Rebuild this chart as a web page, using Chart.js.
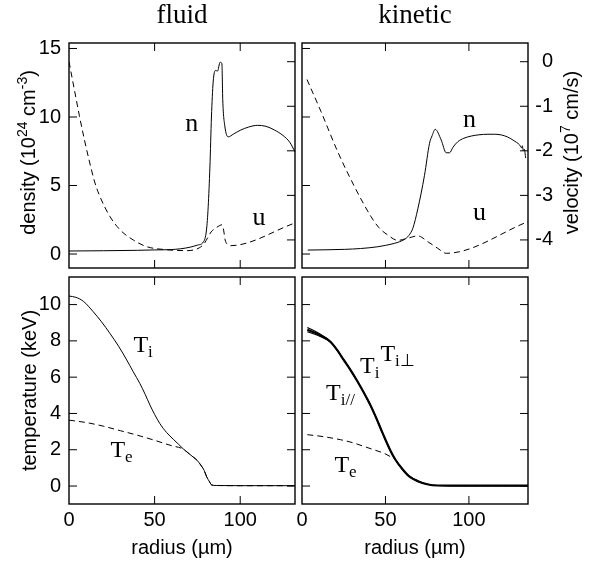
<!DOCTYPE html>
<html><head><meta charset="utf-8">
<script src="https://cdn.jsdelivr.net/npm/chart.js@4.4.1/dist/chart.umd.min.js"></script>
<style>
html,body{margin:0;padding:0;background:#fff;}
#wrap{position:relative;width:595px;height:565px;background:#fff;}
#wrap canvas{position:absolute;left:0;top:0;}
</style></head>
<body><div id="wrap">
<canvas id="c1" width="595" height="565"></canvas>
<canvas id="c2" width="595" height="565"></canvas>
<canvas id="c3" width="595" height="565"></canvas>
<canvas id="c4" width="595" height="565"></canvas>
</div>
<script>
// ---------------- data ----------------
const PANEL_TITLES = ['fluid', 'kinetic'];
const X_TITLE = 'radius (µm)';
const T_TITLE = 'temperature (keV)';
const X_TICKS = [0, 50, 100];
const DENSITY_TICKS = [0, 5, 10, 15];
const VELOCITY_TICKS = [0, -1, -2, -3, -4];
const TEMP_TICKS = [0, 2, 4, 6, 8, 10];
const X_MAX_FLUID = 132;
const X_MAX_KINETIC = 135.4;

// fluid: density n (10^24 cm^-3)
const FLUID_N_R = [0, 20, 40, 50, 59, 65, 70.8, 75, 78.5, 80.3, 81.3, 82.3, 83.2, 84.2, 85.6, 86.7, 88.3, 89.3, 89.8, 91, 93, 96, 100, 105, 110, 115, 120, 125, 129, 132];
const FLUID_N   = [0.22, 0.24, 0.27, 0.3, 0.32, 0.38, 0.5, 0.65, 0.88, 1.75, 3.45, 6.35, 10.0, 12.55, 13.4, 13.35, 14.0, 13.9, 11.25, 9.35, 8.55, 8.75, 9.03, 9.27, 9.39, 9.32, 9.05, 8.65, 8.15, 7.45];
// fluid: velocity u (10^7 cm/s)
const FLUID_U_R = [0, 3, 6, 9, 12, 15, 18, 24, 30, 37.5, 45.3, 57, 69, 76, 79, 81, 83, 85, 87, 89.3, 90.3, 91.2, 92.5, 94, 132];
const FLUID_U   = [0, -0.6, -1.2, -1.75, -2.25, -2.7, -3.02, -3.48, -3.78, -4.0, -4.15, -4.22, -4.24, -4.18, -4.08, -3.95, -3.82, -3.75, -3.7, -3.66, -3.78, -4.0, -4.1, -4.13, -3.62];

// kinetic: density n
const KIN_N_R = [3.4, 15, 25.4, 35, 45.4, 50, 55.4, 58.5, 61.4, 64, 66.4, 69.4, 73.4, 76.4, 78, 79.8, 83.4, 86.4, 88.4, 90.5, 93.4, 97, 101.4, 106, 111.4, 115.5, 119.4, 123, 126.4, 128.5, 130.4, 131.5, 132, 132.6, 133.2, 134];
const KIN_N   = [0.29, 0.31, 0.34, 0.4, 0.53, 0.63, 0.78, 0.9, 1.07, 1.35, 1.88, 3.3, 5.75, 8.08, 8.65, 9.1, 8.32, 7.39, 7.39, 7.8, 8.2, 8.45, 8.61, 8.7, 8.74, 8.74, 8.69, 8.55, 8.32, 8.15, 7.96, 7.75, 7.9, 7.55, 7.65, 7.0];
// kinetic: velocity u
const KIN_U_R = [3, 11.4, 21.4, 31.4, 41.4, 46, 51.4, 57.4, 63.4, 69.4, 75.4, 81.4, 86.4, 135.4];
const KIN_U   = [-0.4, -1.12, -2.02, -2.8, -3.48, -3.72, -3.89, -4.01, -3.96, -3.91, -4.04, -4.19, -4.3, -3.59];

// fluid: temperatures (keV)
const FLUID_TI_R = [0, 4, 8.4, 14.2, 19, 24, 29, 33.7, 37.5, 41.4, 44.5, 47.3, 50, 53, 57, 60.9, 64, 66.7, 69.5, 72.5, 75, 77, 79, 80.4, 82, 83.3, 86, 100, 132];
const FLUID_TI   = [10.47, 10.4, 10.18, 9.6, 9.05, 8.4, 7.7, 6.95, 6.3, 5.65, 5.05, 4.46, 3.95, 3.45, 2.95, 2.58, 2.3, 2.05, 1.83, 1.6, 1.4, 1.15, 0.85, 0.51, 0.25, 0.06, 0.03, 0.02, 0.02];
const FLUID_TE_R = [0, 10, 20, 30, 40, 50, 60, 66.7, 69.5, 72.5, 75, 77, 79, 80.4, 82, 83.3, 86, 100, 132];
const FLUID_TE   = [3.63, 3.5, 3.3, 3.05, 2.8, 2.52, 2.22, 2.04, 1.83, 1.6, 1.4, 1.15, 0.85, 0.51, 0.25, 0.06, 0.03, 0.02, 0.02];

// kinetic: temperatures (keV)
const KIN_TI_R    = [3.2, 10, 17, 21, 25, 29, 33, 37, 41, 44, 47, 50, 53, 56, 60, 64, 69.4, 75, 81, 100, 135.4];
const KIN_TI      = [8.62, 8.35, 7.95, 7.5, 6.95, 6.4, 5.8, 5.15, 4.45, 3.85, 3.2, 2.55, 1.95, 1.45, 0.95, 0.55, 0.27, 0.1, 0.03, 0.02, 0.02];
const KIN_TI_PERP = [8.74, 8.42, 7.97, 7.5, 6.95, 6.4, 5.8, 5.15, 4.45, 3.85, 3.2, 2.55, 1.95, 1.45, 0.95, 0.55, 0.27, 0.1, 0.03, 0.02, 0.02];
const KIN_TI_PAR  = [8.5, 8.28, 7.93, 7.5, 6.95, 6.4, 5.8, 5.15, 4.45, 3.85, 3.2, 2.55, 1.95, 1.45, 0.95, 0.55, 0.27, 0.1, 0.03, 0.02, 0.02];
const KIN_TE_R = [3.2, 13, 23.2, 30, 37.2, 43, 49.2, 53, 56, 60, 64, 69.4, 75, 81, 100, 135.4];
const KIN_TE   = [2.83, 2.72, 2.55, 2.4, 2.18, 2.0, 1.8, 1.62, 1.45, 0.95, 0.55, 0.27, 0.1, 0.03, 0.02, 0.02];

// axis ranges
const DENSITY_RANGE = [-1.02, 15.4];
const VELOCITY_RANGE = [-4.63, 0.42];
const TEMP_RANGE = [-0.99, 11.52];

// ---------------- drawing ----------------
const SANS = "'Liberation Sans', Arial, Helvetica, sans-serif";
const SERIF = "'Liberation Serif', 'Times New Roman', serif";
const DASH = [6, 4];

function pts(xs, ys) { return xs.map((x, i) => ({x: x, y: ys[i]})); }
function ds(label, xs, ys, axis, dashed, width) {
  return {label: label, data: pts(xs, ys), yAxisID: axis, borderColor: '#000',
    borderWidth: width || 1, borderDash: dashed ? DASH : [], pointRadius: 0,
    fill: false, cubicInterpolationMode: 'monotone'};
}

const DECOR = {};

function drawRich(ctx, parts, bx, cy) {
  const main = '20px ' + SANS, sup = '14px ' + SANS;
  let total = 0;
  parts.forEach(p => { ctx.font = p[1] ? sup : main; total += ctx.measureText(p[0]).width; });
  ctx.save();
  ctx.translate(bx, cy);
  ctx.rotate(-Math.PI / 2);
  ctx.textBaseline = 'alphabetic';
  ctx.textAlign = 'left';
  let x = -total / 2;
  parts.forEach(p => {
    ctx.font = p[1] ? sup : main;
    ctx.fillText(p[0], x, p[1] ? -8 : 0);
    x += ctx.measureText(p[0]).width;
  });
  ctx.restore();
}

const decorPlugin = {
  id: 'decor',
  afterDatasetsDraw(chart) {
    const o = DECOR[chart.canvas.id];
    if (!o) return;
    const ctx = chart.ctx, a = chart.chartArea, sc = chart.scales;
    ctx.save();
    ctx.strokeStyle = '#000';
    ctx.fillStyle = '#000';
    ctx.lineWidth = 1.4;
    ctx.strokeRect(a.left, a.top, a.right - a.left, a.bottom - a.top);
    const L = 8;
    ctx.lineWidth = 1;
    ctx.beginPath();
    X_TICKS.forEach(v => {
      const px = sc.x.getPixelForValue(v);
      if (px <= a.left + 1 || px >= a.right - 1) return;
      ctx.moveTo(px, a.top); ctx.lineTo(px, a.top + L);
      ctx.moveTo(px, a.bottom); ctx.lineTo(px, a.bottom - L);
    });
    o.left.forEach(v => {
      const py = sc[o.leftAxis].getPixelForValue(v);
      ctx.moveTo(a.left, py); ctx.lineTo(a.left + L, py);
    });
    o.right.forEach(v => {
      const py = sc[o.rightAxis].getPixelForValue(v);
      ctx.moveTo(a.right, py); ctx.lineTo(a.right - L, py);
    });
    ctx.stroke();
    if (o.title) {
      ctx.font = '27px ' + SERIF;
      ctx.textAlign = 'center';
      ctx.textBaseline = 'alphabetic';
      ctx.fillText(o.title, (a.left + a.right) / 2, a.top - 20);
    }
    ctx.textAlign = 'left';
    ctx.textBaseline = 'alphabetic';
    o.notes.forEach(n => {
      const px = sc.x.getPixelForValue(n.r), py = sc[n.axis].getPixelForValue(n.v);
      ctx.font = n.size + 'px ' + SERIF;
      ctx.fillText(n.main, px, py);
      if (n.sub) {
        const w = ctx.measureText(n.main).width;
        ctx.font = Math.round(n.size * 0.72) + 'px ' + SERIF;
        ctx.fillText(n.sub, px + w, py + 5);
      }
    });
    (o.rich || []).forEach(r => {
      const bx = r.side === 'left' ? a.left - 34 : a.right + 50;
      drawRich(ctx, r.parts, bx, (a.top + a.bottom) / 2 - 3);
    });
    ctx.restore();
  }
};

function yScale(range, ticks, show, pos, width, title) {
  const s = {
    type: 'linear', position: pos, min: range[0], max: range[1], display: show,
    grid: {display: false, drawTicks: false}, border: {display: false},
    afterBuildTicks: sc => { sc.ticks = ticks.map(v => ({value: v})); },
    ticks: {color: '#000', font: {family: SANS, size: 20}, padding: 8,
      crossAlign: pos === 'left' ? 'near' : 'far'},
    afterFit: sc => { sc.width = show ? width : 0; }
  };
  if (title) s.title = {display: true, text: title, color: '#000', font: {family: SANS, size: 20}, padding: {top: 18, bottom: 0}};
  return s;
}
function xScale(max, show) {
  return {
    type: 'linear', position: 'bottom', min: 0, max: max, display: show,
    grid: {display: false, drawTicks: false}, border: {display: false},
    afterBuildTicks: sc => { sc.ticks = X_TICKS.map(v => ({value: v})); },
    ticks: {color: '#000', font: {family: SANS, size: 20}, padding: 4, maxRotation: 0, autoSkip: false},
    title: {display: show, text: X_TITLE, color: '#000', font: {family: SANS, size: 20}, padding: {top: 0, bottom: 5}},
    afterFit: sc => { sc.height = show ? 61 : 0; }
  };
}
function make(id, datasets, padding, scales) {
  return new Chart(document.getElementById(id), {
    type: 'line',
    data: {datasets: datasets},
    options: {
      responsive: false, animation: false, events: [], devicePixelRatio: 1,
      layout: {padding: padding},
      plugins: {legend: {display: false}, tooltip: {enabled: false}},
      scales: scales
    },
    plugins: [decorPlugin]
  });
}

// top-left: fluid n, u
DECOR.c1 = {title: PANEL_TITLES[0], leftAxis: 'y', left: DENSITY_TICKS, rightAxis: 'y2', right: VELOCITY_TICKS,
  notes: [{main: 'n', r: 67.9, v: 9.0, axis: 'y', size: 26}, {main: 'u', r: 107.2, v: 2.12, axis: 'y', size: 26}],
  rich: [{side: 'left', parts: [['density (10', 0], ['24', 1], [' cm', 0], ['-3', 1], [')', 0]]}]};
make('c1', [ds('n', FLUID_N_R, FLUID_N, 'y', false), ds('u', FLUID_U_R, FLUID_U, 'y2', true)],
  {left: 0, top: 43, right: 300, bottom: 297},
  {x: xScale(X_MAX_FLUID, false),
   y: yScale(DENSITY_RANGE, DENSITY_TICKS, true, 'left', 69),
   y2: yScale(VELOCITY_RANGE, VELOCITY_TICKS, false, 'right', 0)});

// top-right: kinetic n, u  (velocity labels right-aligned at x = 553)
DECOR.c2 = {title: PANEL_TITLES[1], leftAxis: 'y', left: DENSITY_TICKS, rightAxis: 'y2', right: VELOCITY_TICKS,
  notes: [{main: 'n', r: 96.4, v: 9.25, axis: 'y', size: 26}, {main: 'u', r: 102.4, v: 2.45, axis: 'y', size: 26}],
  rich: [{side: 'right', parts: [['velocity (10', 0], ['7', 1], [' cm/s)', 0]]}]};
make('c2', [ds('n', KIN_N_R, KIN_N, 'y', false), ds('u', KIN_U_R, KIN_U, 'y2', true)],
  {left: 302, top: 43, right: 42, bottom: 297},
  {x: xScale(X_MAX_KINETIC, false),
   y: yScale(DENSITY_RANGE, DENSITY_TICKS, false, 'left', 0),
   y2: yScale(VELOCITY_RANGE, VELOCITY_TICKS, true, 'right', 25)});

// bottom-left: fluid Ti, Te
DECOR.c3 = {leftAxis: 'y', left: TEMP_TICKS, rightAxis: 'y', right: TEMP_TICKS,
  notes: [{main: 'T', sub: 'i', r: 37.6, v: 7.39, axis: 'y', size: 24}, {main: 'T', sub: 'e', r: 24.2, v: 1.6, axis: 'y', size: 24}]};
make('c3', [ds('Ti', FLUID_TI_R, FLUID_TI, 'y', false), ds('Te', FLUID_TE_R, FLUID_TE, 'y', true)],
  {left: 0, top: 277, right: 300, bottom: 0},
  {x: xScale(X_MAX_FLUID, true),
   y: yScale(TEMP_RANGE, TEMP_TICKS, true, 'left', 69, T_TITLE)});

// bottom-right: kinetic Ti, Ti_perp, Ti_par, Te
DECOR.c4 = {leftAxis: 'y', left: TEMP_TICKS, rightAxis: 'y', right: TEMP_TICKS,
  notes: [{main: 'T', sub: 'i', r: 34.8, v: 6.22, axis: 'y', size: 24},
          {main: 'T', sub: 'i\u22A5', r: 47.0, v: 6.9, axis: 'y', size: 24},
          {main: 'T', sub: 'i//', r: 14.4, v: 4.73, axis: 'y', size: 24},
          {main: 'T', sub: 'e', r: 19.4, v: 0.79, axis: 'y', size: 24}]};
make('c4', [ds('Ti_perp', KIN_TI_R, KIN_TI_PERP, 'y', false, 1.2), ds('Ti_par', KIN_TI_R, KIN_TI_PAR, 'y', false, 1.2),
            ds('Ti', KIN_TI_R, KIN_TI, 'y', false, 2.2), ds('Te', KIN_TE_R, KIN_TE, 'y', true)],
  {left: 302, top: 277, right: 67, bottom: 0},
  {x: xScale(X_MAX_KINETIC, true),
   y: yScale(TEMP_RANGE, TEMP_TICKS, false, 'left', 0)});
</script>
</body></html>
